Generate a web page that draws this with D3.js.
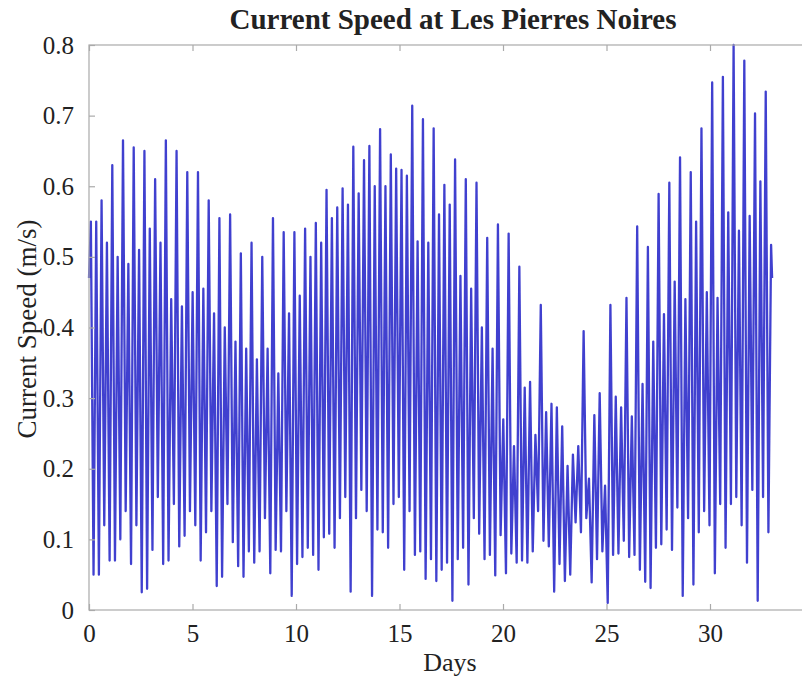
<!DOCTYPE html>
<html>
<head>
<meta charset="utf-8">
<script src="https://cdn.jsdelivr.net/npm/d3@7"></script>
<style>
  html, body { margin: 0; padding: 0; background: #fff; }
  svg { display: block; }
  text { font-family: "Liberation Serif", "Times New Roman", serif; fill: #222; }
</style>
</head>
<body>
<svg id="chart" width="802" height="684"></svg>
<script>
// ---------------- data ----------------
const title = "Current Speed at Les Pierres Noires";
const xLabel = "Days";
const yLabel = "Current Speed (m/s)";
const xTicks = [0, 5, 10, 15, 20, 25, 30, 35];
const yTicks = [0, 0.1, 0.2, 0.3, 0.4, 0.5, 0.6, 0.7, 0.8];

// timing of the record (days)
const startDay = 0, startSpeed = 0.47;
const firstPeakDay = 0.09;      // first current maximum
const halfCycle = 0.25875;      // time between successive maxima (half an M2 cycle)
const endDay = 33.0, endSpeed = 0.47;

// successive current maxima (m/s)
const peaks = [
  0.55, 0.55, 0.58, 0.52, 0.63, 0.50, 0.665, 0.49, 0.655, 0.51,
  0.65, 0.54, 0.61, 0.52, 0.665, 0.44, 0.65, 0.43, 0.62, 0.45,
  0.62, 0.455, 0.58, 0.42, 0.555, 0.40, 0.56, 0.38, 0.505, 0.37,
  0.52, 0.355, 0.50, 0.37, 0.555, 0.335, 0.535, 0.42, 0.535, 0.445,
  0.54, 0.50, 0.548, 0.52, 0.595, 0.555, 0.57, 0.597, 0.574, 0.656,
  0.59, 0.637, 0.657, 0.60, 0.681, 0.60, 0.645, 0.625, 0.623, 0.615,
  0.714, 0.522, 0.695, 0.52, 0.682, 0.56, 0.602, 0.574, 0.638, 0.473,
  0.61, 0.455, 0.605, 0.40, 0.527, 0.37, 0.546, 0.27, 0.533, 0.232,
  0.486, 0.315, 0.323, 0.248, 0.432, 0.28, 0.292, 0.287, 0.26, 0.204,
  0.22, 0.232, 0.395, 0.186, 0.276, 0.307, 0.176, 0.432, 0.302, 0.287,
  0.442, 0.274, 0.543, 0.32, 0.514, 0.38, 0.589, 0.419, 0.605, 0.465,
  0.641, 0.44, 0.62, 0.55, 0.682, 0.45, 0.747, 0.442, 0.755, 0.563,
  0.80, 0.537, 0.778, 0.558, 0.703, 0.607, 0.734, 0.517
];

// current minima between successive maxima (m/s)
const troughs = [
  0.05, 0.05, 0.12, 0.07, 0.07, 0.10, 0.14, 0.065, 0.12, 0.025,
  0.03, 0.085, 0.16, 0.065, 0.07, 0.15, 0.09, 0.105, 0.14, 0.12,
  0.07, 0.11, 0.14, 0.034, 0.047, 0.15, 0.096, 0.062, 0.047, 0.083,
  0.067, 0.083, 0.13, 0.052, 0.085, 0.083, 0.14, 0.02, 0.065, 0.075,
  0.088, 0.078, 0.057, 0.103, 0.108, 0.088, 0.13, 0.16, 0.026, 0.13,
  0.17, 0.14, 0.02, 0.114, 0.11, 0.088, 0.15, 0.16, 0.057, 0.14,
  0.078, 0.083, 0.044, 0.072, 0.041, 0.057, 0.067, 0.013, 0.072, 0.088,
  0.036, 0.13, 0.108, 0.072, 0.078, 0.049, 0.106, 0.052, 0.08, 0.067,
  0.07, 0.067, 0.083, 0.14, 0.098, 0.09, 0.026, 0.065, 0.041, 0.05,
  0.124, 0.11, 0.13, 0.039, 0.072, 0.083, 0.01, 0.078, 0.08, 0.098,
  0.075, 0.078, 0.057, 0.04, 0.031, 0.088, 0.093, 0.114, 0.085, 0.145,
  0.02, 0.13, 0.036, 0.11, 0.14, 0.12, 0.052, 0.15, 0.088, 0.15,
  0.16, 0.12, 0.067, 0.17, 0.013, 0.16, 0.11
];

// ---------------- build series ----------------
const series = [{ day: startDay, v: startSpeed }];
peaks.forEach((p, i) => {
  series.push({ day: firstPeakDay + i * halfCycle, v: p });
  if (i < troughs.length) series.push({ day: firstPeakDay + (i + 0.5) * halfCycle, v: troughs[i] });
});
series.push({ day: endDay, v: endSpeed });

// ---------------- layout ----------------
const svg = d3.select("#chart");
const plotLeft = 89, plotTop = 45, plotBottom = 610;
const plotRight = plotLeft + (710 - plotLeft) / 30 * 35;

const x = d3.scaleLinear().domain([0, 35]).range([plotLeft, plotRight]);
const y = d3.scaleLinear().domain([0, 0.8]).range([plotBottom, plotTop]);

svg.append("rect").attr("width", 802).attr("height", 684).attr("fill", "#fff");

const defs = svg.append("defs");
defs.append("filter").attr("id", "soft")
  .attr("x", "-2%").attr("y", "-2%").attr("width", "104%").attr("height", "104%")
  .append("feGaussianBlur").attr("stdDeviation", 0.45);

// data line
const line = d3.line().x(d => x(d.day)).y(d => y(d.v));
svg.append("path")
  .datum(series)
  .attr("d", line)
  .attr("fill", "none")
  .attr("stroke", "#4141cf")
  .attr("stroke-width", 2.3)
  .attr("stroke-linejoin", "round")
  .attr("filter", "url(#soft)");

// frame
const frameColor = "#aaaaaa";
svg.append("rect")
  .attr("x", plotLeft).attr("y", plotTop)
  .attr("width", plotRight - plotLeft).attr("height", plotBottom - plotTop)
  .attr("fill", "none").attr("stroke", frameColor).attr("stroke-width", 1.2);

// axes (ticks drawn inward, MATLAB style)
const tickLen = 6;
const fmtY = d => d === 0 ? "0" : d3.format(".1f")(d);

const xBottom = d3.axisBottom(x).tickValues(xTicks).tickSize(-tickLen).tickPadding(14).tickFormat(d3.format("d"));
const gxb = svg.append("g").attr("transform", `translate(0,${plotBottom})`).call(xBottom);
const xTopAxis = d3.axisTop(x).tickValues(xTicks).tickSize(-tickLen).tickFormat("");
const gxt = svg.append("g").attr("transform", `translate(0,${plotTop})`).call(xTopAxis);
const yLeft = d3.axisLeft(y).tickValues(yTicks).tickSize(-tickLen).tickPadding(15).tickFormat(fmtY);
const gyl = svg.append("g").attr("transform", `translate(${plotLeft},0)`).call(yLeft);

[gxb, gxt, gyl].forEach(g => {
  g.select(".domain").remove();
  g.selectAll(".tick line").attr("stroke", frameColor).attr("stroke-width", 1.2);
  g.selectAll(".tick text").attr("font-family", "Liberation Serif, Times New Roman, serif")
    .attr("font-size", 25).attr("fill", "#222");
});
gxb.selectAll(".tick text").attr("dy", "0.71em");

// title & labels
svg.append("text")
  .attr("x", 453).attr("y", 29)
  .attr("text-anchor", "middle")
  .attr("font-size", 29).attr("font-weight", "bold")
  .text(title);

svg.append("text")
  .attr("x", 450).attr("y", 671)
  .attr("text-anchor", "middle")
  .attr("font-size", 26)
  .text(xLabel);

svg.append("text")
  .attr("transform", `translate(36,329) rotate(-90)`)
  .attr("text-anchor", "middle")
  .attr("font-size", 27)
  .text(yLabel);
</script>
</body>
</html>
